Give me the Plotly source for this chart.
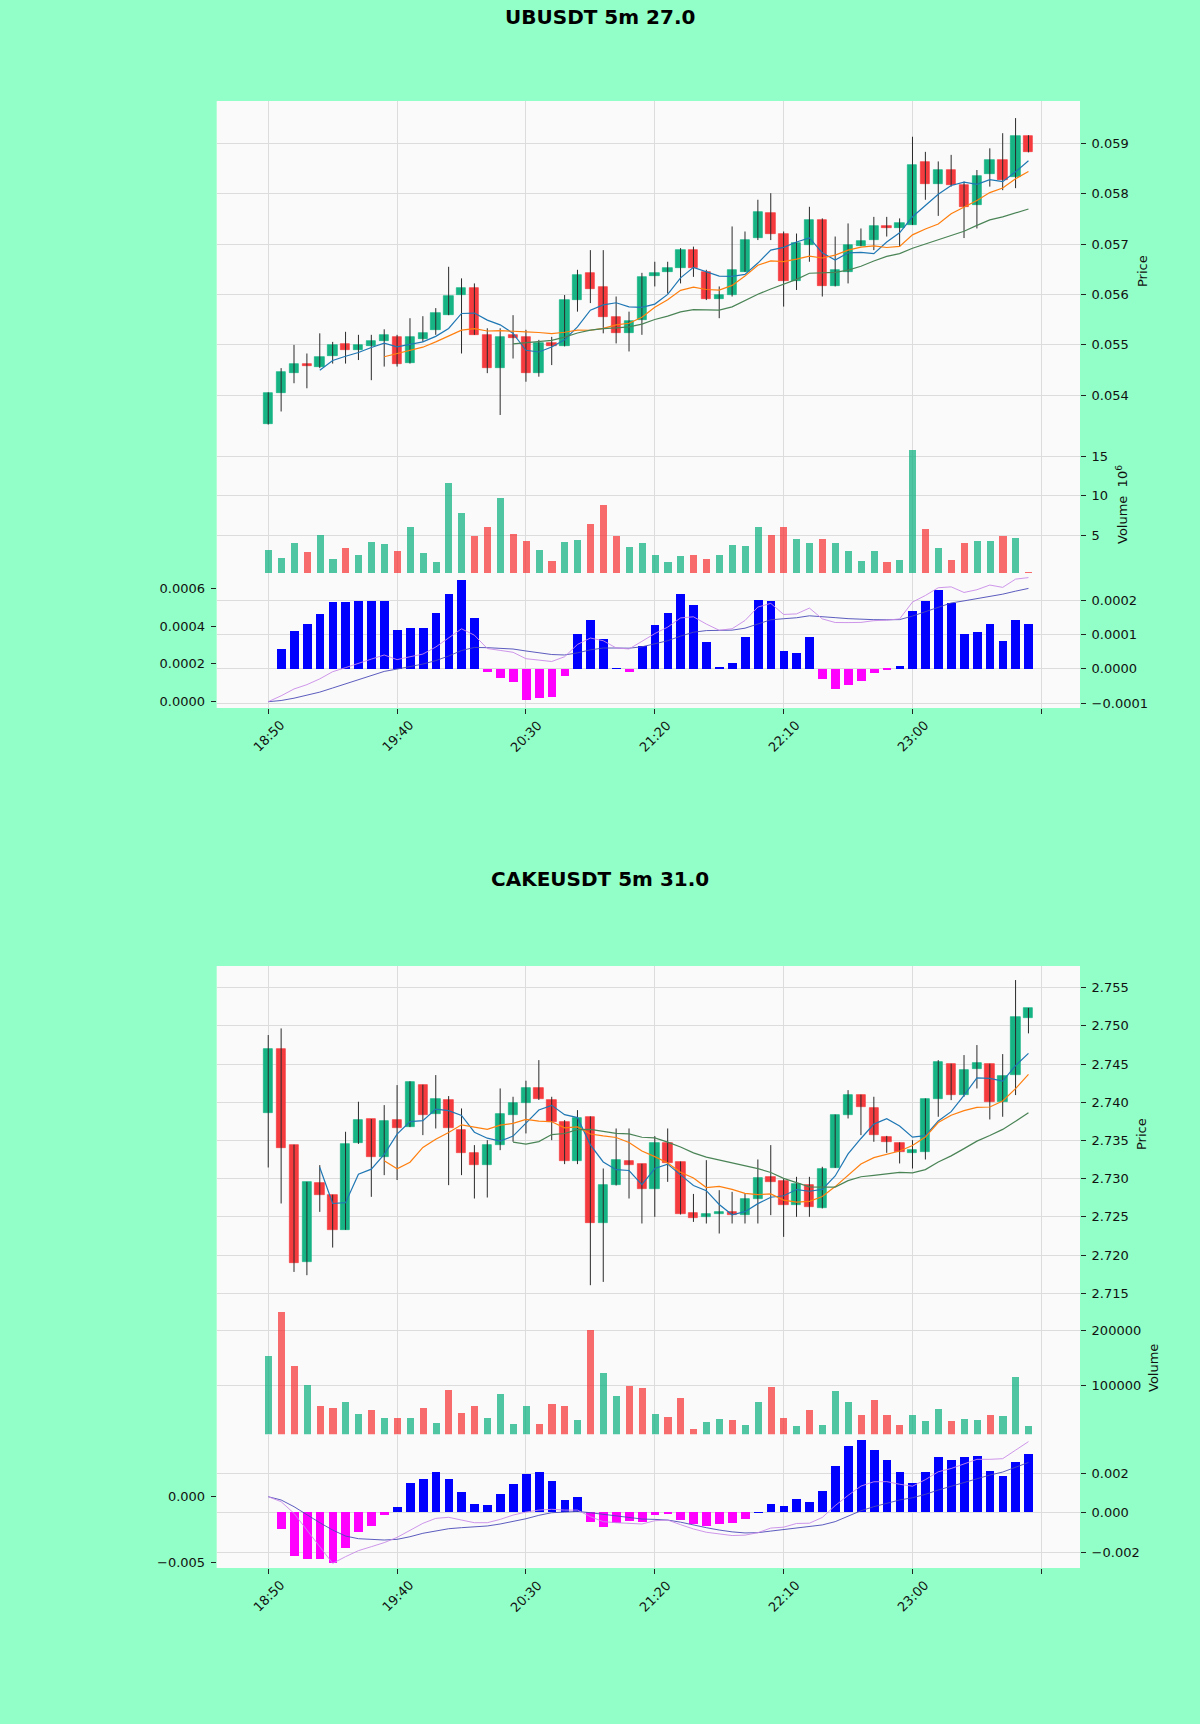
import plotly.graph_objects as go

W, H = 1200, 1724
BG = '#91ffc7'
PANEL = '#fafafa'
GRID = '#dcdcdc'
UP, DOWN = '#16b384', '#f53b3e'
UP_VOL, DOWN_VOL = 'rgba(22,179,132,0.75)', 'rgba(245,59,62,0.75)'
FONT = 'DejaVu Sans'

tick_pos = [0, 10, 20, 30, 40, 50]
tick_text = ['18:50', '19:40', '20:30', '21:20', '22:10', '23:00']
end_tick = [60]

# ---------------- UBUSDT ----------------
ub_open = [0.05344, 0.05404, 0.05445, 0.05463, 0.05457, 0.05478, 0.05502, 0.05489, 0.05497, 0.05508,
           0.05516, 0.05465, 0.05511, 0.05530, 0.05559, 0.05599, 0.05612, 0.05520, 0.05454, 0.05520,
           0.05516, 0.05444, 0.05503, 0.05498, 0.05589, 0.05642, 0.05614, 0.05556, 0.05524, 0.05549,
           0.05637, 0.05645, 0.05652, 0.05688, 0.05645, 0.05592, 0.05599, 0.05645, 0.05712, 0.05762,
           0.05721, 0.05626, 0.05698, 0.05748, 0.05616, 0.05645, 0.05696, 0.05708, 0.05736, 0.05731,
           0.05738, 0.05862, 0.05819, 0.05847, 0.05817, 0.05778, 0.05840, 0.05867, 0.05834, 0.05915]
ub_high = [0.05406, 0.05454, 0.05500, 0.05483, 0.05523, 0.05506, 0.05526, 0.05520, 0.05520, 0.05531,
           0.05520, 0.05553, 0.05557, 0.05573, 0.05655, 0.05632, 0.05622, 0.05533, 0.05533, 0.05559,
           0.05530, 0.05510, 0.05516, 0.05599, 0.05649, 0.05688, 0.05688, 0.05596, 0.05566, 0.05643,
           0.05665, 0.05665, 0.05692, 0.05695, 0.05649, 0.05616, 0.05735, 0.05725, 0.05788, 0.05801,
           0.05725, 0.05721, 0.05774, 0.05751, 0.05715, 0.05741, 0.05731, 0.05754, 0.05754, 0.05751,
           0.05913, 0.05883, 0.05864, 0.05877, 0.05824, 0.05847, 0.05890, 0.05920, 0.05950, 0.05916]
ub_low = [0.05342, 0.05368, 0.05424, 0.05414, 0.05454, 0.05463, 0.05463, 0.05470, 0.05430, 0.05457,
          0.05457, 0.05463, 0.05506, 0.05520, 0.05559, 0.05483, 0.05520, 0.05444, 0.05361, 0.05473,
          0.05427, 0.05437, 0.05460, 0.05497, 0.05566, 0.05583, 0.05523, 0.05503, 0.05487, 0.05520,
          0.05616, 0.05602, 0.05622, 0.05635, 0.05589, 0.05553, 0.05596, 0.05645, 0.05708, 0.05708,
          0.05576, 0.05609, 0.05665, 0.05596, 0.05616, 0.05622, 0.05696, 0.05688, 0.05715, 0.05695,
          0.05738, 0.05788, 0.05756, 0.05814, 0.05712, 0.05731, 0.05814, 0.05807, 0.05811, 0.05882]
ub_close = [0.05404, 0.05447, 0.05463, 0.05458, 0.05477, 0.05500, 0.05490, 0.05500, 0.05508, 0.05519,
            0.05463, 0.05516, 0.05524, 0.05563, 0.05597, 0.05612, 0.05520, 0.05454, 0.05516, 0.05513,
            0.05444, 0.05503, 0.05497, 0.05589, 0.05639, 0.05610, 0.05556, 0.05524, 0.05548, 0.05634,
            0.05643, 0.05652, 0.05688, 0.05652, 0.05592, 0.05599, 0.05649, 0.05708, 0.05764, 0.05721,
            0.05626, 0.05702, 0.05748, 0.05616, 0.05649, 0.05698, 0.05707, 0.05735, 0.05731, 0.05741,
            0.05857, 0.05819, 0.05847, 0.05817, 0.05774, 0.05835, 0.05866, 0.05827, 0.05915, 0.05883]
ub_volume_m = [3.06, 2.04, 3.9, 2.85, 5.0, 1.9, 3.3, 2.5, 4.1, 3.8,
               3.0, 6.0, 2.7, 1.6, 11.6, 7.8, 4.8, 6.0, 9.7, 5.1,
               4.2, 3.1, 1.7, 4.1, 4.4, 6.4, 8.8, 4.8, 3.4, 4.0,
               2.4, 1.6, 2.3, 2.4, 2.0, 2.5, 3.7, 3.6, 6.0, 5.0,
               6.0, 4.5, 3.9, 4.5, 4.0, 3.0, 1.7, 2.9, 1.5, 1.8,
               15.7, 5.7, 3.3, 1.8, 4.0, 4.2, 4.2, 4.8, 4.6, 0.35]
ub_ma5 = [None] * 4 + [
    0.054498, 0.05469, 0.054776, 0.05485, 0.05495, 0.055034, 0.05496, 0.055012, 0.05506, 0.05517,
    0.055326, 0.055624, 0.055632, 0.055492, 0.055398, 0.05523, 0.054894, 0.05486, 0.054958, 0.055104,
    0.055356, 0.055688, 0.055794, 0.055836, 0.055754, 0.055744, 0.05581, 0.056002, 0.05633, 0.056538,
    0.056454, 0.056366, 0.05636, 0.0564, 0.056624, 0.056882, 0.056936, 0.057042, 0.057122, 0.056826,
    0.056682, 0.056826, 0.056836, 0.05681, 0.05704, 0.057224, 0.057542, 0.057766, 0.05799, 0.058162,
    0.058228, 0.058184, 0.058278, 0.058238, 0.058434, 0.058652]
ub_ma10 = [None] * 9 + [
    0.054766, 0.054825, 0.054894, 0.054955, 0.05506, 0.05518, 0.055292, 0.055322, 0.055276, 0.055284,
    0.055278, 0.055259, 0.055246, 0.055225, 0.055251, 0.055293, 0.055291, 0.055327, 0.055397, 0.055429,
    0.05555, 0.055749, 0.055898, 0.056083, 0.056146, 0.056099, 0.056088, 0.056181, 0.056365, 0.056581,
    0.056668, 0.056651, 0.056701, 0.056761, 0.056725, 0.056782, 0.056881, 0.056939, 0.056966, 0.056933,
    0.056953, 0.057184, 0.057301, 0.0574, 0.057601, 0.057726, 0.057863, 0.058022, 0.058114, 0.058298,
    0.05844]
ub_ma20 = [None] * 19 + [
    0.055022, 0.055042, 0.05507, 0.05509, 0.055156, 0.055237, 0.055292, 0.055325, 0.055337, 0.055357,
    0.055414, 0.055504, 0.055572, 0.055654, 0.055699, 0.055696, 0.05569, 0.055754, 0.055881, 0.056005,
    0.056109, 0.0562, 0.0563, 0.056422, 0.056436, 0.056441, 0.056485, 0.05656, 0.056666, 0.056757,
    0.056811, 0.056918, 0.057001, 0.057081, 0.057163, 0.057254, 0.057372, 0.057481, 0.05754, 0.057616,
    0.057697]
ub_hist_e4 = [0, 0.56, 1.10, 1.29, 1.58, 1.94, 1.94, 1.98, 1.96, 1.96,
              1.12, 1.17, 1.19, 1.62, 2.17, 2.59, 1.46, -0.10, -0.26, -0.39,
              -0.92, -0.84, -0.83, -0.21, 1.00, 1.41, 0.87, 0.01, -0.09, 0.65,
              1.26, 1.62, 2.17, 1.84, 0.78, 0.03, 0.17, 0.92, 2.01, 1.96,
              0.51, 0.46, 0.92, -0.29, -0.58, -0.47, -0.36, -0.12, -0.05, 0.08,
              1.67, 1.96, 2.30, 1.92, 1.00, 1.06, 1.29, 0.81, 1.43, 1.29]
ub_dif_e4 = [0, 0.312, 0.674, 0.903, 1.209, 1.586, 1.803, 2.043, 2.253, 2.473,
             2.225, 2.378, 2.520, 2.893, 3.380, 3.857, 3.519, 2.815, 2.715, 2.614,
             2.276, 2.216, 2.127, 2.380, 3.029, 3.369, 3.226, 2.845, 2.791, 3.193,
             3.604, 3.946, 4.433, 4.493, 4.109, 3.780, 3.861, 4.297, 5.006, 5.203,
             4.616, 4.646, 4.953, 4.383, 4.190, 4.186, 4.195, 4.288, 4.314, 4.380,
             5.273, 5.621, 6.030, 6.076, 5.780, 5.925, 6.172, 6.050, 6.485, 6.567]
ub_dea_e4 = [0, 0.063, 0.186, 0.330, 0.507, 0.725, 0.942, 1.164, 1.383, 1.603,
             1.728, 1.859, 1.992, 2.174, 2.417, 2.707, 2.871, 2.859, 2.830, 2.787,
             2.684, 2.589, 2.496, 2.473, 2.585, 2.743, 2.840, 2.841, 2.831, 2.904,
             3.045, 3.227, 3.470, 3.676, 3.763, 3.767, 3.786, 3.889, 4.114, 4.333,
             4.390, 4.442, 4.545, 4.512, 4.448, 4.395, 4.355, 4.341, 4.336, 4.344,
             4.532, 4.751, 5.009, 5.224, 5.336, 5.454, 5.599, 5.690, 5.850, 5.994]

# ---------------- CAKEUSDT ----------------
cake_open = [2.73854, 2.74692, 2.73439, 2.71910, 2.72945, 2.72784, 2.72334, 2.73461, 2.73775, 2.73286,
             2.73766, 2.73679, 2.74225, 2.73845, 2.74028, 2.73635, 2.73338, 2.73177, 2.73439, 2.73832,
             2.73985, 2.74190, 2.74028, 2.73744, 2.73234, 2.73810, 2.72413, 2.72915, 2.73229, 2.73190,
             2.72871, 2.73461, 2.73220, 2.72552, 2.72500, 2.72531, 2.72557, 2.72522, 2.72740, 2.73024,
             2.72972, 2.72653, 2.72915, 2.72622, 2.73146, 2.73832, 2.74094, 2.73919, 2.73548, 2.73469,
             2.73338, 2.73351, 2.74037, 2.74500, 2.74094, 2.74430, 2.74500, 2.74006, 2.74356, 2.75098]
cake_high = [2.74880, 2.74967, 2.73445, 2.72958, 2.73177, 2.72790, 2.73614, 2.74007, 2.73780, 2.73963,
             2.74225, 2.74275, 2.74230, 2.74356, 2.74081, 2.73919, 2.73439, 2.73504, 2.74181, 2.74072,
             2.74282, 2.74552, 2.74072, 2.73766, 2.73897, 2.73815, 2.73133, 2.73657, 2.73657, 2.73195,
             2.73557, 2.73657, 2.73225, 2.72800, 2.73242, 2.72849, 2.72827, 2.72806, 2.73251, 2.73439,
             2.73002, 2.73024, 2.73024, 2.73155, 2.73840, 2.74159, 2.74100, 2.74072, 2.73560, 2.73475,
             2.73504, 2.74050, 2.74552, 2.74505, 2.74618, 2.74749, 2.74505, 2.74631, 2.75600, 2.75235]
cake_low = [2.73146, 2.72675, 2.71779, 2.71736, 2.72565, 2.72098, 2.72330, 2.73455, 2.72762, 2.73046,
            2.72982, 2.73675, 2.73570, 2.73657, 2.72915, 2.73046, 2.72740, 2.72753, 2.73373, 2.73483,
            2.73592, 2.74030, 2.73504, 2.73190, 2.73190, 2.71605, 2.71648, 2.72910, 2.72740, 2.72413,
            2.72500, 2.72958, 2.72530, 2.72434, 2.72413, 2.72282, 2.72413, 2.72413, 2.72413, 2.72522,
            2.72238, 2.72500, 2.72500, 2.72610, 2.73140, 2.73788, 2.73570, 2.73483, 2.73338, 2.73199,
            2.73133, 2.73251, 2.73810, 2.74028, 2.74072, 2.74181, 2.73775, 2.73810, 2.74094, 2.74902]
cake_close = [2.74692, 2.73404, 2.71897, 2.72958, 2.72784, 2.72334, 2.73452, 2.73766, 2.73286, 2.73753,
              2.73657, 2.74268, 2.73832, 2.74037, 2.73657, 2.73338, 2.73177, 2.73439, 2.73845, 2.73985,
              2.74190, 2.74037, 2.73744, 2.73234, 2.73788, 2.72413, 2.72915, 2.73242, 2.73177, 2.72871,
              2.73461, 2.73199, 2.72535, 2.72491, 2.72531, 2.72557, 2.72522, 2.72740, 2.73015, 2.72950,
              2.72653, 2.72928, 2.72631, 2.73133, 2.73832, 2.74094, 2.73941, 2.73570, 2.73483, 2.73351,
              2.73373, 2.74037, 2.74530, 2.74094, 2.74421, 2.74517, 2.74006, 2.74343, 2.75111, 2.75229]
cake_volume = [152100, 233100, 133700, 100000, 60100, 57000, 68100, 46000, 54000, 38700,
               38700, 38700, 57000, 29400, 89600, 47900, 60100, 38700, 83400, 27600,
               61300, 27600, 64400, 60100, 34400, 201200, 121500, 78500, 98200, 93900,
               46000, 40500, 75500, 18400, 30700, 36800, 34400, 26400, 67500, 95700,
               38700, 24500, 54000, 26400, 87700, 67500, 44800, 71200, 44800, 25200,
               44200, 32500, 55200, 32500, 36800, 34400, 44800, 41700, 113500, 24500]
cake_ma5 = [None] * 4 + [
    2.73147, 2.72675, 2.72685, 2.73059, 2.73124, 2.73318, 2.73583, 2.73746, 2.73759, 2.73910,
    2.73890, 2.73827, 2.73608, 2.73530, 2.73491, 2.73557, 2.73727, 2.73899, 2.73960, 2.73838,
    2.73799, 2.73443, 2.73219, 2.73118, 2.73107, 2.72923, 2.73133, 2.73190, 2.73049, 2.72911,
    2.72843, 2.72662, 2.72527, 2.72568, 2.72673, 2.72757, 2.72776, 2.72857, 2.72835, 2.72859,
    2.73035, 2.73324, 2.73526, 2.73714, 2.73784, 2.73688, 2.73544, 2.73563, 2.73755, 2.73877,
    2.74091, 2.74320, 2.74314, 2.74276, 2.74480, 2.74641]
cake_ma10 = [None] * 9 + [
    2.73233, 2.73129, 2.73216, 2.73409, 2.73517, 2.73604, 2.73705, 2.73677, 2.73645, 2.73700,
    2.73724, 2.73777, 2.73754, 2.73745, 2.73665, 2.73678, 2.73585, 2.73559, 2.73539, 2.73473,
    2.73361, 2.73288, 2.73204, 2.73083, 2.73009, 2.72883, 2.72898, 2.72859, 2.72808, 2.72792,
    2.72800, 2.72719, 2.72692, 2.72702, 2.72766, 2.72896, 2.73050, 2.73192, 2.73275, 2.73322,
    2.73362, 2.73434, 2.73545, 2.73735, 2.73831, 2.73890, 2.73932, 2.73938, 2.74016, 2.74179,
    2.74366]
cake_ma20 = [None] * 19 + [
    2.73478, 2.73453, 2.73485, 2.73577, 2.73591, 2.73641, 2.73645, 2.73618, 2.73592, 2.73586,
    2.73542, 2.73533, 2.73479, 2.73414, 2.73337, 2.73281, 2.73242, 2.73209, 2.73174, 2.73132,
    2.73081, 2.73004, 2.72948, 2.72893, 2.72888, 2.72890, 2.72974, 2.73025, 2.73042, 2.73057,
    2.73081, 2.73076, 2.73118, 2.73218, 2.73298, 2.73393, 2.73491, 2.73565, 2.73645, 2.73750,
    2.73864]
cake_hist_e3 = [0, -0.81, -2.18, -2.35, -2.35, -2.57, -1.80, -0.97, -0.69, -0.12,
                0.29, 1.51, 1.71, 2.05, 1.68, 1.04, 0.45, 0.39, 0.92, 1.43,
                1.93, 2.02, 1.60, 0.64, 0.76, -0.50, -0.71, -0.55, -0.45, -0.47,
                -0.12, -0.03, -0.37, -0.57, -0.67, -0.59, -0.54, -0.32, 0.02, 0.44,
                0.34, 0.69, 0.54, 1.09, 2.32, 3.33, 3.63, 3.16, 2.66, 2.02,
                1.51, 2.02, 2.82, 2.66, 2.82, 2.86, 2.07, 1.85, 2.54, 2.96]
cake_dif_e3 = [0, -0.38, -1.27, -2.54, -3.81, -5.08, -4.57, -4.11, -3.81, -3.50,
               -3.10, -2.54, -2.03, -1.65, -1.57, -1.78, -1.98, -1.98, -1.73, -1.40,
               -1.17, -1.02, -0.96, -1.02, -1.02, -1.52, -1.90, -1.98, -2.03, -2.08,
               -1.83, -1.78, -2.13, -2.46, -2.71, -2.85, -2.96, -2.93, -2.74, -2.39,
               -2.32, -2.04, -2.02, -1.58, -0.68, 0.10, 0.81, 1.14, 1.15, 0.95,
               0.80, 1.30, 1.90, 2.15, 2.50, 2.85, 2.85, 2.90, 3.55, 4.20]
cake_dea_e3 = [0, -0.25, -0.76, -1.40, -1.98, -2.54, -3.00, -3.20, -3.27, -3.30,
               -3.25, -3.05, -2.79, -2.59, -2.44, -2.36, -2.31, -2.23, -2.08, -1.88,
               -1.68, -1.42, -1.22, -1.17, -1.12, -1.22, -1.35, -1.47, -1.57, -1.70,
               -1.73, -1.78, -1.94, -2.16, -2.36, -2.54, -2.68, -2.76, -2.74, -2.62,
               -2.50, -2.40, -2.30, -2.15, -1.90, -1.47, -1.07, -0.76, -0.51, -0.25,
               -0.08, 0.18, 0.51, 0.81, 1.09, 1.40, 1.65, 1.88, 2.23, 2.61]

X_DOM = [216.7 / W, 1080 / W]


def dom(top, bottom):
    return [1 - bottom / H, 1 - top / H]


def name(prefix, i):
    return prefix if i == 1 else f'{prefix}{i}'


fig = go.Figure()
tickfont = dict(family=FONT, size=13, color='#111')
layout_axes = {}
shapes = []
annots = []


def add_chart(k, o, hi, lo, c, vol, ma5, ma10, ma20, hist, dif, dea, cfg):
    xm, xv, xd = 3 * k + 1, 3 * k + 2, 3 * k + 3
    ym, yv, yd, yl = 4 * k + 1, 4 * k + 2, 4 * k + 3, 4 * k + 4
    idx = list(range(len(o)))
    up = [cc >= oo for oo, cc in zip(o, c)]

    # wicks first, bodies on top
    wx, wy = [], []
    for i in idx:
        wx += [i, i, None]
        wy += [lo[i], hi[i], None]
    fig.add_trace(go.Scatter(x=wx, y=wy, mode='lines', line=dict(color='#2a2a2a', width=1),
                             xaxis=name('x', xm), yaxis=name('y', ym), hoverinfo='skip'))
    cols = [UP if u else DOWN for u in up]
    fig.add_trace(go.Bar(x=idx, y=[abs(cc - oo) for oo, cc in zip(o, c)],
                         base=[min(oo, cc) for oo, cc in zip(o, c)], width=0.72,
                         marker=dict(color=cols, line=dict(color=cols, width=0.7)),
                         xaxis=name('x', xm), yaxis=name('y', ym)))
    for ma, col in ((ma5, '#1f77b4'), (ma10, '#ff7f0e'), (ma20, '#4a8456')):
        fig.add_trace(go.Scatter(x=idx, y=ma, mode='lines', line=dict(color=col, width=1.2),
                                 xaxis=name('x', xm), yaxis=name('y', ym)))
    # volume
    fig.add_trace(go.Bar(x=idx, y=vol, width=0.55,
                         marker=dict(color=[UP_VOL if u else DOWN_VOL for u in up], line=dict(width=0)),
                         xaxis=name('x', xv), yaxis=name('y', yv)))
    # macd
    fig.add_trace(go.Bar(x=idx, y=hist, width=0.68,
                         marker=dict(color=['#0000ff' if v >= 0 else '#ff00ff' for v in hist],
                                     line=dict(width=0)),
                         xaxis=name('x', xd), yaxis=name('y', yd)))
    fig.add_trace(go.Scatter(x=idx, y=dea, mode='lines', line=dict(color='#4a4ab8', width=0.9),
                             xaxis=name('x', xd), yaxis=name('y', yl)))
    fig.add_trace(go.Scatter(x=idx, y=dif, mode='lines', line=dict(color='#c88ae8', width=0.9),
                             xaxis=name('x', xd), yaxis=name('y', yl)))

    top, bot = cfg['top'], cfg['bottom']
    span = bot - top
    y1 = top + span * 5 / 9
    y2 = top + span * 7 / 9
    shapes.append(dict(type='rect', xref='paper', yref='paper', x0=X_DOM[0], x1=X_DOM[1],
                       y0=1 - bot / H, y1=1 - top / H, fillcolor=PANEL, line=dict(width=0),
                       layer='below'))
    all_ticks = tick_pos + end_tick
    xbase = dict(domain=X_DOM, range=[-4, 63], showgrid=True, gridcolor=GRID,
                 gridwidth=1, zeroline=False, showline=False, tickvals=all_ticks,
                 showticklabels=False)
    layout_axes[name('xaxis', xm)] = dict(xbase, anchor=name('y', ym), ticks='')
    layout_axes[name('xaxis', xv)] = dict(xbase, anchor=name('y', yv), ticks='')
    layout_axes[name('xaxis', xd)] = dict(xbase, anchor=name('y', yd), ticks='outside', ticklen=5,
                                          tickcolor='#222')
    # rotated time labels, centred under their ticks like the original
    for t, lab in zip(tick_pos, tick_text):
        annots.append(dict(text=lab, x=t, xref=name('x', xd), y=1 - (bot + 28) / H, yref='paper',
                           xanchor='center', yanchor='middle', showarrow=False, textangle=-45,
                           font=tickfont))
    ybase = dict(side='right', ticks='outside', ticklen=5, tickcolor='#222', tickfont=tickfont,
                 showgrid=True, gridcolor=GRID, gridwidth=1, zeroline=False, showline=False,
                 ticklabelstandoff=3)
    layout_axes[name('yaxis', ym)] = dict(ybase, anchor=name('x', xm), domain=dom(top, y1),
                                          range=cfg['price_range'], tickvals=cfg['price_ticks'],
                                          tickformat='.3f')
    layout_axes[name('yaxis', yv)] = dict(ybase, anchor=name('x', xv), domain=dom(y1, y2),
                                          range=cfg['vol_range'], tickvals=cfg['vol_ticks'],
                                          tickformat='d')
    layout_axes[name('yaxis', yd)] = dict(ybase, anchor=name('x', xd), domain=dom(y2, bot),
                                          range=cfg['hist_range'], tickvals=cfg['hist_ticks'],
                                          tickformat=cfg['hist_fmt'])
    layout_axes[name('yaxis', yl)] = dict(ybase, side='left', anchor=name('x', xd),
                                          overlaying=name('y', yd), showgrid=False,
                                          range=cfg['line_range'], tickvals=cfg['line_ticks'],
                                          tickformat=cfg['line_fmt'])


add_chart(0, ub_open, ub_high, ub_low, ub_close, ub_volume_m, ub_ma5, ub_ma10, ub_ma20,
          [v * 1e-4 for v in ub_hist_e4], [v * 1e-4 for v in ub_dif_e4], [v * 1e-4 for v in ub_dea_e4],
          dict(top=101, bottom=708,
               price_range=[0.053149, 0.059839], price_ticks=[0.054, 0.055, 0.056, 0.057, 0.058, 0.059],
               vol_range=[0.18, 17.25], vol_ticks=[5, 10, 15],
               hist_range=[-0.0001137, 0.0002781], hist_ticks=[-0.0001, 0, 0.0001, 0.0002], hist_fmt='.4f',
               line_range=[-0.0000333, 0.0006804], line_ticks=[0, 0.0002, 0.0004, 0.0006], line_fmt='.4f'))

add_chart(1, cake_open, cake_high, cake_low, cake_close, cake_volume, cake_ma5, cake_ma10, cake_ma20,
          [v * 1e-3 for v in cake_hist_e3], [v * 1e-3 for v in cake_dif_e3], [v * 1e-3 for v in cake_dea_e3],
          dict(top=966, bottom=1568,
               price_range=[2.714055, 2.757841],
               price_ticks=[2.715, 2.72, 2.725, 2.73, 2.735, 2.74, 2.745, 2.75, 2.755],
               vol_range=[9390, 255800], vol_ticks=[100000, 200000],
               hist_range=[-0.002786, 0.003955], hist_ticks=[-0.002, 0, 0.002], hist_fmt='.3f',
               line_range=[-0.005434, 0.004764], line_ticks=[-0.005, 0], line_fmt='.3f'))

for text, py in (('UBUSDT 5m 27.0', 16.5), ('CAKEUSDT 5m 31.0', 879)):
    annots.append(dict(text=f'<b>{text}</b>', x=0.5, y=1 - py / H, xref='paper', yref='paper',
                       xanchor='center', yanchor='middle', showarrow=False,
                       font=dict(family=FONT, size=20, color='#000')))
for text, px, py in (('Price', 1142, 271), ('Volume  10<sup>6</sup>', 1122, 505),
                     ('Price', 1141, 1134), ('Volume', 1153, 1368)):
    annots.append(dict(text=text, x=px / W, y=1 - py / H, xref='paper', yref='paper',
                       xanchor='center', yanchor='middle', showarrow=False, textangle=-90,
                       font=dict(family=FONT, size=13, color='#111')))

fig.update_layout(
    width=W, height=H, template='none',
    paper_bgcolor=BG, plot_bgcolor='rgba(0,0,0,0)',
    margin=dict(l=0, r=0, t=0, b=0),
    showlegend=False, barmode='overlay', bargap=0,
    font=dict(family=FONT, size=13, color='#111'),
    annotations=annots, shapes=shapes,
    **layout_axes,
)

fig.write_html('out.html', config={'displayModeBar': False},
               post_script="document.body.style.margin='0';document.body.style.background='#91ffc7';")
